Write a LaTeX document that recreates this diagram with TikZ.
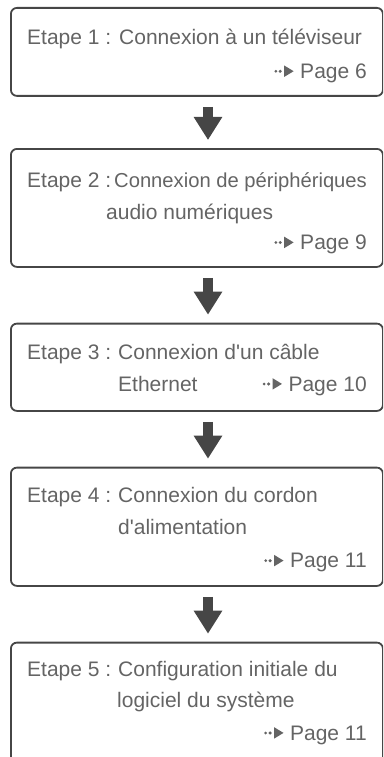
\documentclass[tikz,border=0pt]{standalone}
\usepackage{fontspec}
\setmainfont{Liberation Sans}[Ligatures=TeXOff]
\usepackage{tikz}
\usetikzlibrary{arrows.meta,calc,positioning}

\definecolor{textgray}{RGB}{100,100,100}
\definecolor{boxgray}{RGB}{70,70,70}

% "Page n" reference with the small dotted pointer in front of it
\newcommand{\pagemark}[3]{%
  \node[pagetext] (#1) at (367,#2) {Page #3};
  \fill[textgray] ($(#1.base west)+(-24.2,-7)$) circle (1.5pt);
  \fill[textgray] ($(#1.base west)+(-19.8,-7)$) circle (1.7pt);
  \fill[textgray] ($(#1.base west)+(-15.8,-12.8)$) --
    ($(#1.base west)+(-15.8,-1.4)$) --
    ($(#1.base west)+(-6.4,-7.1)$) -- cycle;
}

\begin{document}
\begin{tikzpicture}[x=1pt, y=-1pt, font=\fontsize{21}{25}\selectfont,
    stepbox/.style={draw=boxgray, line width=1.8pt, rounded corners=6pt,
      anchor=north west, inner sep=0pt, minimum width=372pt},
    steptext/.style={text=textgray, inner sep=0pt, anchor=base west},
    pagetext/.style={text=textgray, inner sep=0pt, anchor=base east},
    flowarrow/.style={draw=boxgray, line width=10.6pt,
      -{Triangle[width=27pt,length=23pt]}, shorten <=10pt, shorten >=8pt}]
    \useasboundingbox (0,0) rectangle (383,757);
    \clip (0,0) rectangle (383,757);
    \coordinate (ax) at (208,0);
    % step boxes
    \node[stepbox, minimum height=88pt]    (b1) at (10,7)     {};
    \node[stepbox, minimum height=118pt]   (b2) at (10,148)   {};
    \node[stepbox, minimum height=87.3pt]  (b3) at (10,322.7) {};
    \node[stepbox, minimum height=118.3pt] (b4) at (10,466.7) {};
    \node[stepbox, minimum height=130pt]   (b5) at (10,641.7) {};
    % step 1
    \node[steptext] (e1) at (27,45) {Etape 1 :};
    \node[steptext] (t1) at (119,45) {Connexion à un téléviseur};
    \pagemark{p1}{78.3}{6}
    % step 2
    \node[steptext] (e2) at (27,187.5) {Etape 2 :};
    \node[steptext, font=\fontsize{20.2}{25}\selectfont] (t2) at (114,187.5)
      {Connexion de périphériques};
    \node[steptext] (u2) at (106,219.5) {audio numériques};
    \pagemark{p2}{249.5}{9}
    % step 3
    \node[steptext] (e3) at (27,359.5) {Etape 3 :};
    \node[steptext] (t3) at (118,359.5) {Connexion d'un câble};
    \node[steptext] (u3) at (118,391) {Ethernet};
    \pagemark{p3}{391}{10}
    % step 4
    \node[steptext] (e4) at (27,502.7) {Etape 4 :};
    \node[steptext] (t4) at (118,502.7) {Connexion du cordon};
    \node[steptext] (u4) at (118,534.3) {d'alimentation};
    \pagemark{p4}{567.7}{11}
    % step 5
    \node[steptext] (e5) at (27,676) {Etape 5 :};
    \node[steptext] (t5) at (118,676) {Configuration initiale du};
    \node[steptext] (u5) at (117,707.3) {logiciel du système};
    \pagemark{p5}{740}{11}
    % arrows between the steps
    \foreach \a/\b in {b1/b2, b2/b3, b3/b4, b4/b5}{
      \draw[flowarrow] (\a.south -| ax) -- (\b.north -| ax);
    }
\end{tikzpicture}
\end{document}
